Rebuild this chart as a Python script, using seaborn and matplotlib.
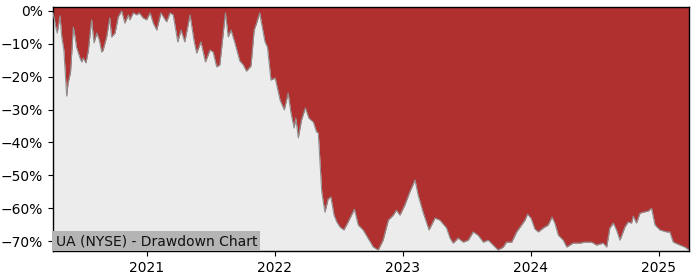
import matplotlib
matplotlib.use("Agg")
import matplotlib.pyplot as plt
import matplotlib.ticker as mticker
import matplotlib.dates as mdates
import seaborn as sns
import pandas as pd

dates = [
    "2020-04-08", "2020-04-11", "2020-04-16", "2020-04-20", "2020-04-28", "2020-05-03",
    "2020-05-09", "2020-05-17", "2020-05-21", "2020-05-28", "2020-06-05", "2020-06-10",
    "2020-06-14", "2020-06-24", "2020-06-29", "2020-07-03", "2020-07-11", "2020-07-18",
    "2020-07-27", "2020-08-03", "2020-08-11", "2020-08-18", "2020-08-25", "2020-08-29",
    "2020-09-08", "2020-09-17", "2020-09-22", "2020-10-02", "2020-10-11", "2020-10-21",
    "2020-10-30", "2020-11-09", "2020-11-13", "2020-11-23", "2020-12-03", "2020-12-10",
    "2020-12-21", "2020-12-31", "2021-01-10", "2021-01-19", "2021-01-29", "2021-02-10",
    "2021-02-26", "2021-03-08", "2021-03-17", "2021-03-30", "2021-04-08", "2021-04-19",
    "2021-05-04", "2021-05-16", "2021-05-23", "2021-06-04", "2021-06-17", "2021-06-30",
    "2021-07-09", "2021-07-19", "2021-07-28", "2021-08-13", "2021-08-21", "2021-08-29",
    "2021-09-09", "2021-09-23", "2021-10-03", "2021-10-12", "2021-10-25", "2021-11-03",
    "2021-11-08", "2021-11-19", "2021-11-24", "2021-12-04", "2021-12-11", "2021-12-21",
    "2022-01-02", "2022-01-16", "2022-01-28", "2022-02-08", "2022-02-16", "2022-02-25",
    "2022-03-02", "2022-03-09", "2022-03-18", "2022-03-29", "2022-04-08", "2022-04-21",
    "2022-04-30", "2022-05-05", "2022-05-15", "2022-05-24", "2022-06-02", "2022-06-10",
    "2022-06-19", "2022-06-27", "2022-07-06", "2022-07-17", "2022-07-29", "2022-08-16",
    "2022-08-27", "2022-09-10", "2022-09-24", "2022-10-09", "2022-10-23", "2022-11-06",
    "2022-11-21", "2022-12-05", "2022-12-14", "2022-12-24", "2023-01-07", "2023-01-21",
    "2023-02-05", "2023-02-14", "2023-02-28", "2023-03-17", "2023-04-03", "2023-04-17",
    "2023-05-06", "2023-05-16", "2023-05-25", "2023-06-08", "2023-06-23", "2023-07-07",
    "2023-07-21", "2023-08-04", "2023-08-19", "2023-09-02", "2023-09-16", "2023-09-30",
    "2023-10-15", "2023-10-24", "2023-11-08", "2023-11-22", "2023-12-06", "2023-12-16",
    "2023-12-23", "2024-01-02", "2024-01-13", "2024-01-23", "2024-02-06", "2024-02-20",
    "2024-03-02", "2024-03-10", "2024-03-20", "2024-04-03", "2024-04-13", "2024-05-01",
    "2024-05-21", "2024-06-04", "2024-06-23", "2024-07-07", "2024-07-26", "2024-08-05",
    "2024-08-14", "2024-08-24", "2024-09-02", "2024-09-12", "2024-09-26", "2024-10-05",
    "2024-10-15", "2024-10-20", "2024-10-29", "2024-11-08", "2024-11-17", "2024-12-01",
    "2024-12-11", "2024-12-21", "2025-01-04", "2025-01-23", "2025-02-01", "2025-02-11",
    "2025-03-02", "2025-03-16", "2025-03-28",
]

drawdown_pct = [
    -0.6, -2.1, -4.9, -6.7, -1.5, -7.9,
    -11.9, -25.9, -21.9, -18.6, -4.9, -7.9,
    -11.0, -14.3, -15.5, -14.3, -15.8, -11.9,
    -2.7, -9.7, -6.7, -8.8, -12.5, -11.9,
    -7.9, -2.1, -7.9, -6.7, -1.8, 0.0,
    -3.7, -1.2, -2.7, -0.6, -1.2, -0.6,
    -2.1, -2.7, -0.6, -3.7, -5.8, -0.6,
    -3.3, -0.6, -1.2, -9.4, -5.8, -9.4,
    -1.2, -9.4, -12.8, -9.4, -15.5, -11.9,
    -12.5, -17.0, -16.4, -0.6, -7.9, -5.8,
    -9.7, -15.2, -16.4, -18.3, -16.7, -5.8,
    -4.3, -0.6, -3.7, -9.4, -11.0, -21.0,
    -20.4, -27.1, -30.1, -25.0, -31.0, -35.6,
    -32.6, -38.6, -33.2, -29.5, -32.6, -33.8,
    -36.8, -37.1, -55.1, -61.2, -57.2, -56.6,
    -62.1, -64.2, -65.7, -66.6, -64.2, -60.3,
    -65.1, -66.6, -69.1, -71.8, -72.7, -69.7,
    -63.6, -62.1, -60.6, -62.1, -59.0, -55.1,
    -51.4, -56.0, -61.2, -66.6, -63.0, -63.6,
    -66.0, -69.1, -70.6, -69.1, -70.3, -69.7,
    -67.2, -68.2, -70.3, -69.7, -71.2, -72.7,
    -71.8, -70.3, -70.3, -67.2, -65.1, -63.6,
    -61.8, -63.0, -66.3, -67.2, -66.0, -65.1,
    -62.7, -64.5, -68.2, -69.7, -71.8, -70.6,
    -70.6, -70.3, -70.3, -71.2, -70.6, -71.8,
    -66.0, -64.5, -66.6, -69.7, -65.7, -64.2,
    -64.5, -62.4, -64.5, -61.5, -61.2, -60.9,
    -60.0, -65.1, -66.6, -67.2, -67.2, -70.3,
    -71.2, -71.8, -72.7,
]

label_text = "UA (NYSE) - Drawdown Chart"
ytick_vals = [0, -10, -20, -30, -40, -50, -60, -70]
xtick_years = ["2021-01-01", "2022-01-01", "2023-01-01", "2024-01-01", "2025-01-01"]

df = pd.DataFrame({"date": pd.to_datetime(dates), "dd": drawdown_pct})

sns.set_style("ticks")
plt.rcParams["font.family"] = ["DejaVu Sans"]

fig = plt.figure(figsize=(7, 2.8), dpi=100)
ax = fig.add_axes([53 / 700, 1 - 251 / 280, (689 - 53) / 700, (251 - 7) / 280])
ax.set_facecolor("#ececec")

ax.fill_between(df["date"], df["dd"], 5, color="#b03030", linewidth=0, zorder=2)
sns.lineplot(data=df, x="date", y="dd", ax=ax, color="#909090", linewidth=0.8, zorder=3)

ax.set_xlim(df["date"].iloc[0], df["date"].iloc[-1])
ax.set_ylim(-73.0, 1.2)
ax.set_yticks(ytick_vals)
ax.yaxis.set_major_formatter(mticker.PercentFormatter(xmax=100, decimals=0))
ax.set_xticks(pd.to_datetime(xtick_years))
ax.xaxis.set_major_formatter(mdates.DateFormatter("%Y"))
ax.set_xlabel("")
ax.set_ylabel("")
ax.tick_params(axis="both", labelsize=10, length=3.5, width=0.8, colors="black")
for s in ax.spines.values():
    s.set_visible(True)
    s.set_color("black")
    s.set_linewidth(1.0)
ax.grid(False)

ax.text(0.004, 0.012, label_text, transform=ax.transAxes, fontsize=10,
        ha="left", va="bottom", color="#111111", zorder=5,
        bbox=dict(facecolor="#b4b4b4", edgecolor="none", pad=2.2))

fig.savefig("out.png", dpi=100)
